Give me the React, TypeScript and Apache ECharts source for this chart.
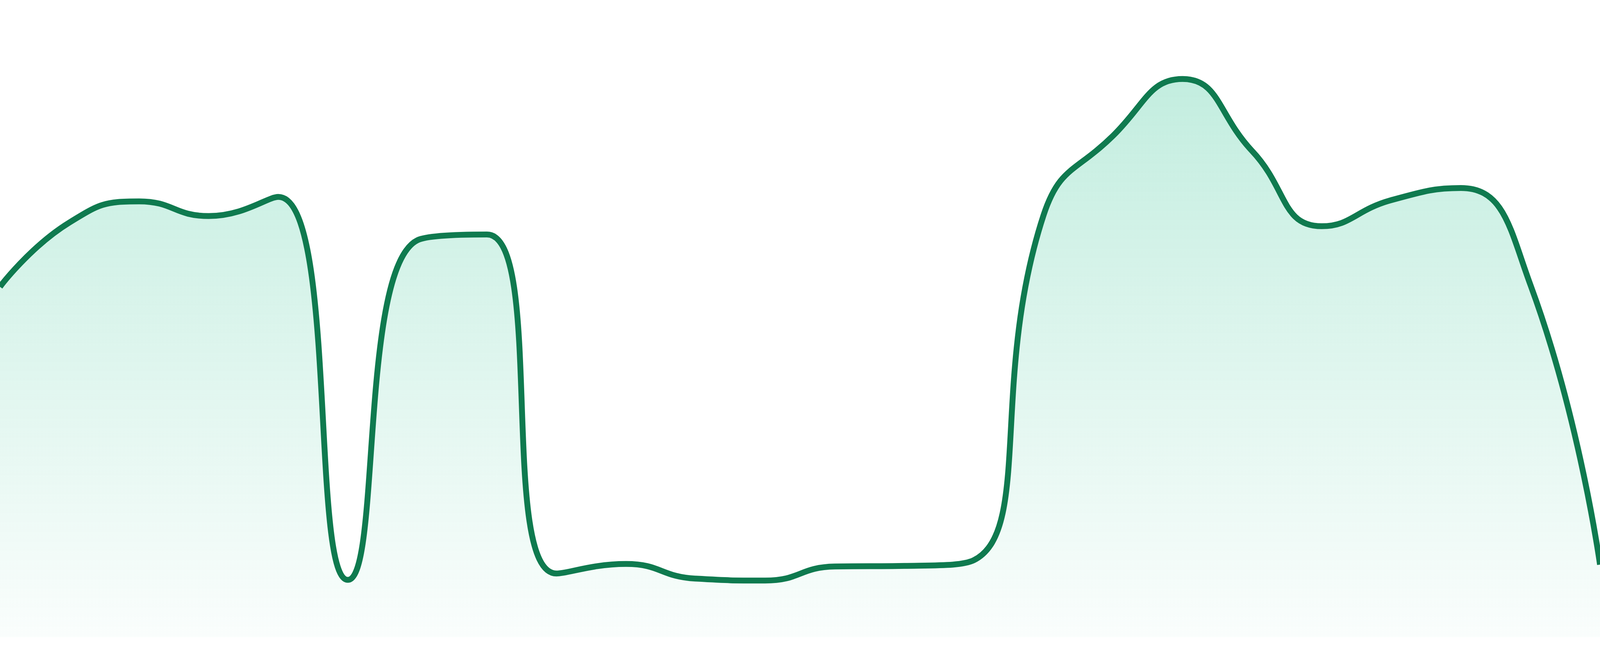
import React, { useRef, useEffect } from "react";
import * as echarts from "echarts";

// 24 evenly spaced samples, no axes shown
const categories = [
  "1", "2", "3", "4", "5", "6", "7", "8", "9", "10", "11", "12",
  "13", "14", "15", "16", "17", "18", "19", "20", "21", "22", "23", "24",
];
const values = [
  55.0, 65.1, 68.4, 66.1, 69.1, 9.0, 62.3, 63.2, 10.0, 11.5, 9.2, 8.9,
  11.1, 11.2, 12.1, 66.2, 78.7, 87.6, 76.3, 64.5, 68.6, 70.5, 55.3, 11.4,
];
const yMin = 0;
const yMax = 100;

const App = function () {
  const chart = useRef<HTMLDivElement>(null);

  useEffect(() => {
    if (!chart.current) return;
    const myChart = echarts.init(chart.current, null, { renderer: "svg" });
    const option = {
      animation: false,
      grid: { left: 0, right: 0, top: 0, bottom: 48 },
      xAxis: {
        type: "category",
        data: categories,
        boundaryGap: false,
        show: false,
      },
      yAxis: {
        type: "value",
        min: yMin,
        max: yMax,
        show: false,
      },
      series: [
        {
          type: "line",
          data: values,
          smooth: true,
          symbol: "none",
          lineStyle: { color: "#0f7a4f", width: 15 },
          areaStyle: {
            color: new echarts.graphic.LinearGradient(0, 0, 0, 1, [
              { offset: 0, color: "rgba(16,185,129,0.36)" },
              { offset: 1, color: "rgba(16,185,129,0.03)" },
            ]),
          },
        },
      ],
    };
    myChart.setOption(option);
    return () => {
      myChart.dispose();
    };
  }, []);

  return (
    <div
      ref={chart}
      style={{ position: "fixed", left: 0, top: 0, width: "100vw", height: "100vh" }}
    ></div>
  );
};

export default App;
